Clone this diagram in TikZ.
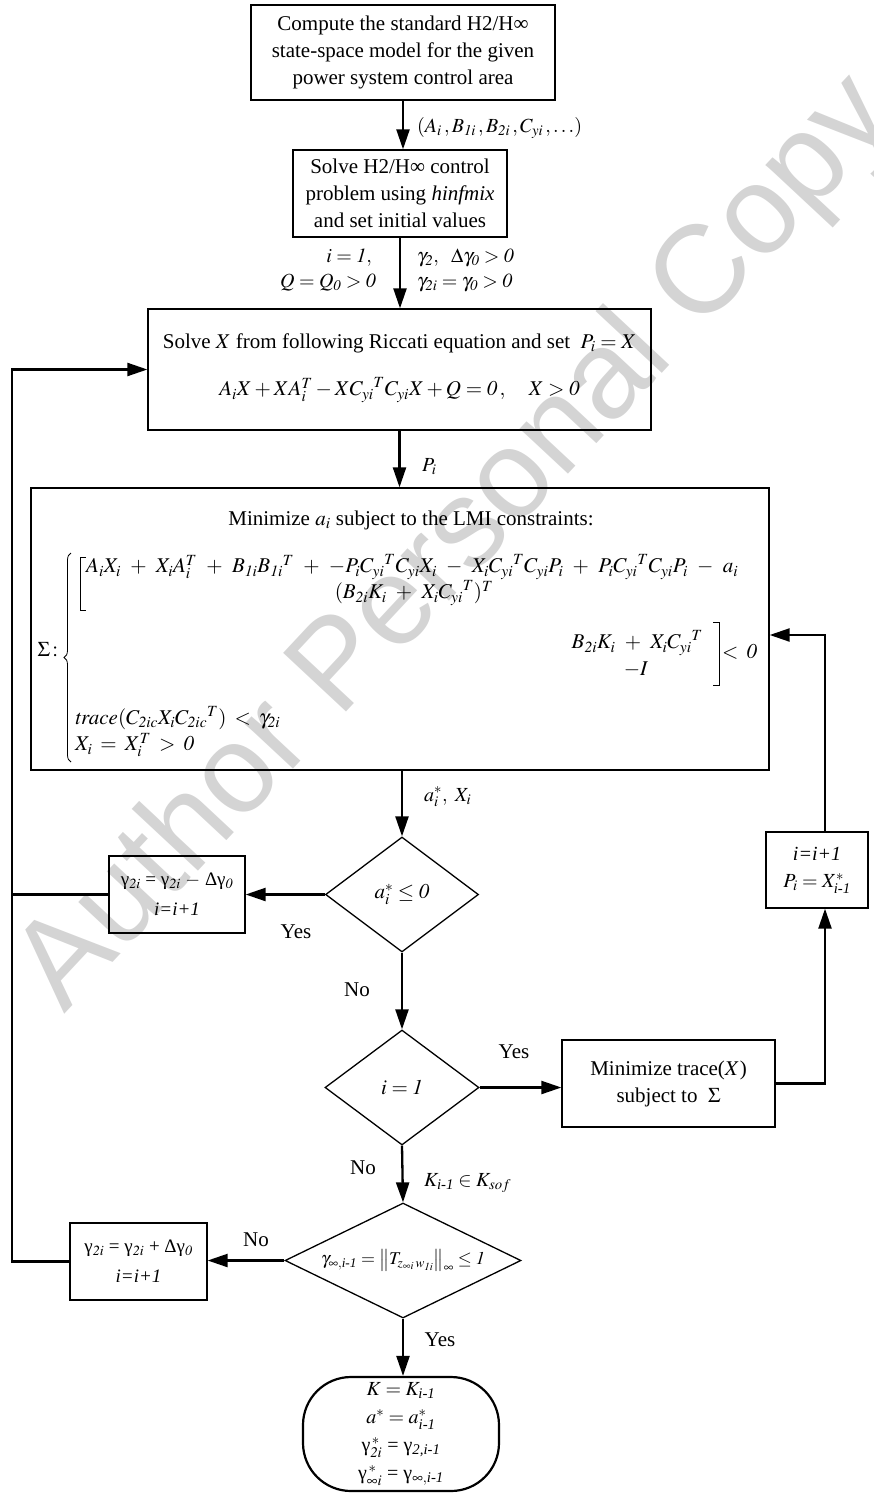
\documentclass[tikz,border=0pt]{standalone}
\usepackage{amsmath}
\usepackage{mathptmx}
\usepackage{fontspec}
\setmainfont{Liberation Serif}
\newfontfamily\wmfont{Liberation Sans}
\usetikzlibrary{arrows.meta,shapes.geometric,decorations.pathreplacing}
\newcommand\imo{\textit{i-1}}
\newcommand\ii[1]{\mathit{#1}}
\newcommand\widemath{\medmuskip=8mu plus 2mu\thickmuskip=7mu plus 2mu}
\begin{document}
\begin{tikzpicture}[x=1pt,y=-1pt,
  every node/.style={font=\fontsize{21}{27}\selectfont},
  box/.style={draw, line width=1.3pt, inner sep=0pt, align=center},
  dia/.style={draw, diamond, line width=1.3pt, inner sep=0pt, align=center},
  arr/.style={line width=2.3pt, -{Triangle[length=20pt,width=13pt]}},
  ln/.style={line width=2.3pt},
  lbl/.style={inner sep=0pt, font=\fontsize{20}{24}\selectfont},
  lmitxt/.style={inner sep=0pt, font=\fontsize{21}{24}\selectfont\widemath},
  brk/.style={line width=0.8pt},
]
\useasboundingbox (0,0) rectangle (874,1493);
% watermark
\node[rotate=47, text=black!17, inner sep=0pt, font=\wmfont\fontsize{125}{125}\selectfont] (wm) at (458,545) {Author Personal Copy};

% top box
\node[box, line width=1.8pt, minimum width=304pt, minimum height=95pt] (top) at (403,52.5)
  {Compute the standard H2/H∞\\state-space model for the given\\power system control area};
\node[box, minimum width=214pt, minimum height=87pt] (init) at (400,193.5)
  {Solve H2/H∞ control\\problem using \textit{hinfmix}\\and set initial values};
\draw[arr] (top.south) -- (top.south |- init.north);
\node[lbl, anchor=west] (l1) at (417,128) {$(A_i\,, B_{\ii{1i}}\,, B_{\ii{2i}}\,, C_{yi}\,, \ldots)$};

% Riccati box
\node[box, minimum width=503pt, minimum height=121pt] (ric) at (399.5,369.5) {};
\node[inner sep=0pt] (ric1) at (399.5,343) {Solve $X$ from following Riccati equation and set \ $P_i = X$};
\node[inner sep=0pt] (ric2) at (399.5,390) {$A_iX + XA_i^{T} - X{C_{yi}}^{T}C_{yi}X + Q = \ii{0}\,,\quad X > \ii{0}$};
\draw[arr] (init.south) -- (init.south |- ric.north);
\node[lbl, anchor=east] (l2) at (372,258) {$i = \ii{1},$};
\node[lbl, anchor=east] (l3) at (376,283) {$Q = Q_{\ii{0}} > \ii{0}$};
\node[lbl, anchor=west] (l4) at (417,258) {$\gamma_{\ii{2}},\ \ \Delta\gamma_{\ii{0}} > \ii{0}$};
\node[lbl, anchor=west] (l5) at (417,283) {$\gamma_{\ii{2i}} = \gamma_{\ii{0}} > \ii{0}$};

% LMI box
\node[box, minimum width=738pt, minimum height=282pt] (lmi) at (400,629) {};
\draw[arr] (ric.south) -- (ric.south |- lmi.north);
\node[lbl, anchor=west] (l6) at (422,467) {$P_i$};
\node[inner sep=0pt] (m0) at (411,520) {Minimize $a_i$ subject to the LMI constraints:};
\node[lmitxt, anchor=west] (m1) at (86,567) {$A_iX_i + X_iA_i^{T} + B_{\ii{1i}}{B_{\ii{1i}}}^{T} + -P_i{C_{yi}}^{T}C_{yi}X_i - X_i{C_{yi}}^{T}C_{yi}P_i + P_i{C_{yi}}^{T}C_{yi}P_i - a_i$};
\node[lmitxt] (m2) at (414,593) {$(B_{\ii{2i}}K_i + X_i{C_{yi}}^{T})^{T}$};
\node[lmitxt, anchor=east] (m3) at (703,643) {$B_{\ii{2i}}K_i + X_i{C_{yi}}^{T}$};
\node[lmitxt] (m4) at (636,670) {$-I$};
\node[lmitxt, anchor=west] (m5) at (722,652) {$<\ii{0}$};
\node[lmitxt, anchor=west] (m6) at (75,718) {$\ii{trace}(C_{\ii{2ic}}X_i{C_{\ii{2ic}}}^{T}) < \gamma_{\ii{2i}}$};
\node[lmitxt, anchor=west] (m7) at (75,745) {$X_i = X_i^{T} > \ii{0}$};
\node[lmitxt] (sig) at (48,650) {$\Sigma\,{:}$};
\draw[brk, decorate, decoration={brace, amplitude=7pt}] (71,762) -- (71,553);
\draw[brk] (86,557) -- (80,557) -- (80,610) -- (86,610);
\draw[brk] (713,622) -- (719,622) -- (719,685) -- (713,685);

% decision 1
\node[dia, minimum width=153pt, minimum height=115pt] (d1) at (402,894.5) {$a_i^{*} \le \ii{0}$};
\draw[arr] (d1.north |- lmi.south) -- (d1.north);
\node[lbl, anchor=west] (l7) at (424,797) {$a_i^{*},\ X_i$};
\node[box, minimum width=136pt, minimum height=77pt, font=\fontsize{19}{30}\selectfont] (gm) at (177,894.5)
  {γ$_{\ii{2i}}$ = γ$_{\ii{2i}}$ $-$ Δγ$_{\ii{0}}$\\\textit{i=i+1}};
\draw[arr] (d1.west) -- (gm.east);
\node[inner sep=0pt] (y1) at (296,932) {Yes};

% right box
\coordinate (rx) at (825,0);
\coordinate (ry) at (0,635);
\coordinate (fb) at (12,0);
\node[box, minimum width=102pt, minimum height=76pt, font=\fontsize{20}{27}\selectfont] (rb) at (817,870)
  {\textit{i=i+1}\\$P_i = X^{*}_{\imo}$};
\draw[arr] (rx |- rb.north) |- (lmi.east |- ry);

% decision 2
\node[dia, minimum width=154pt, minimum height=115pt] (d2) at (402,1087.5) {$i = \ii{1}$};
\draw[arr] (d1.south) -- (d2.north);
\node[inner sep=0pt] (n1) at (357,990) {No};
\node[box, minimum width=213pt, minimum height=87pt] (tr) at (668.5,1083.5)
  {Minimize trace($X$)\\subject to \ $\Sigma$};
\draw[arr] (d2.east) -- (d2.east -| tr.west);
\node[inner sep=0pt] (y2) at (514,1052) {Yes};
\draw[arr] (tr.east) -| (rx |- rb.south);

% decision 3
\node[dia, aspect=2.05, minimum width=236pt, minimum height=115pt, font=\fontsize{18}{22}\selectfont] (d3) at (403,1260.5)
  {$\gamma_{\infty,\imo} = \left\|T_{z_{\infty i}\,w_{\ii{1i}}}\right\|_{\infty} \le \ii{1}$};
\draw[arr] (d2.south) -- (d3.north);
\node[inner sep=0pt] (n2) at (363,1168) {No};
\node[lbl, anchor=west] (l8) at (424,1183) {$K_{\imo} \in K_{sof}$};
\node[box, minimum width=137pt, minimum height=77pt, font=\fontsize{19}{30}\selectfont] (gp) at (138.5,1261.5)
  {γ$_{\ii{2i}}$ = γ$_{\ii{2i}}$ + Δγ$_{\ii{0}}$\\\textit{i=i+1}};
\draw[arr] (d3.west) -- (d3.west -| gp.east);
\node[inner sep=0pt] (n3) at (256,1240) {No};

% feedback lines
\draw[arr] (gp.west) -| (fb |- ric.west) -- (ric.west);
\draw[ln] (gm.west) -- (fb |- gm.west);

% terminal
\node[draw, line width=2.2pt, rounded corners=48pt, minimum width=196pt, minimum height=114pt, align=center,
  inner sep=0pt, font=\fontsize{20}{28}\selectfont] (end) at (401,1434)
  {$K = K_{\imo}$\\$a^{*} = a^{*}_{\imo}$\\γ$_{\ii{2i}}^{\,*}$ = γ$_{\textit{2,i-1}}$\\γ$_{\infty i}^{\,*}$ = γ$_{\infty,\imo}$};
\draw[arr] (d3.south) -- (d3.south |- end.north);
\node[inner sep=0pt] (y3) at (440,1340) {Yes};
\end{tikzpicture}
\end{document}
